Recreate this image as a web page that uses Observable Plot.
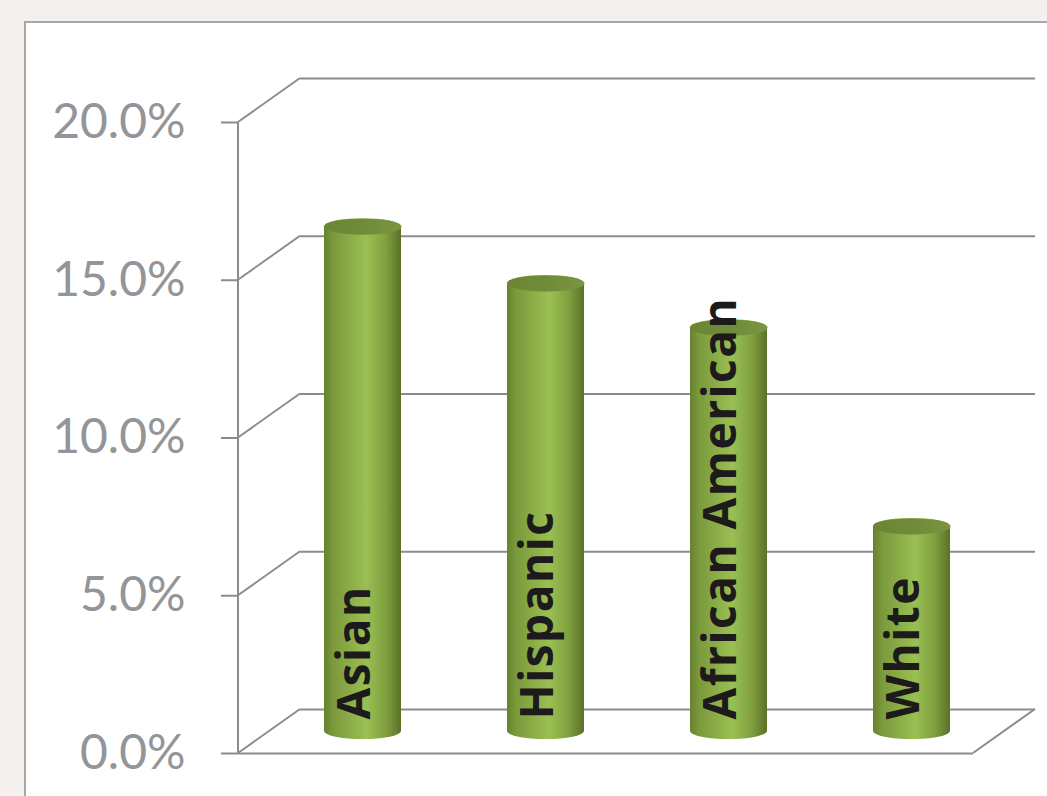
<!DOCTYPE html>
<html>
<head>
<meta charset="utf-8">
<script src="https://cdn.jsdelivr.net/npm/d3@7"></script>
<script src="https://cdn.jsdelivr.net/npm/@observablehq/plot@0.6"></script>
<style>
  html, body { margin: 0; padding: 0; }
  body { width: 1047px; height: 796px; overflow: hidden; background: #f3f0ed; position: relative; }
  #panel { position: absolute; left: 24px; top: 21px; width: 1100px; height: 900px; background: #ffffff; border: 2px solid #a7a7a7; box-sizing: border-box; }
  #chart { position: absolute; left: 0; top: 0; }
  #chart svg { background: transparent; }
  g[aria-label="text"] text { letter-spacing: 1.5px; }
</style>
</head>
<body>
<div id="panel"></div>
<div id="chart"></div>
<script>
const categories = ["Asian", "Hispanic", "African American", "White"];
const values = [16.0, 14.2, 12.8, 6.5];
const yTicks = [0, 5, 10, 15, 20];

const data = categories.map((c, i) => ({category: c, value: values[i]}));

const DX = 62, DY = -44;       // depth of the 3D box
const HX = DX / 2, HY = DY / 2; // bars sit at half depth
const RX = 38.5, RY = 8;       // cylinder cap ellipse

const ellipse = {
  draw(ctx) {
    const k = 0.5523;
    ctx.moveTo(RX, 0);
    ctx.bezierCurveTo(RX, RY * k, RX * k, RY, 0, RY);
    ctx.bezierCurveTo(-RX * k, RY, -RX, RY * k, -RX, 0);
    ctx.bezierCurveTo(-RX, -RY * k, -RX * k, -RY, 0, -RY);
    ctx.bezierCurveTo(RX * k, -RY, RX, -RY * k, RX, 0);
    ctx.closePath();
  }
};

function depthLines(index, scales, values, dims) {
  const y = scales.y;
  const L = dims.marginLeft, R = dims.width - dims.marginRight;
  const g = d3.create("svg:g")
    .attr("fill", "none").attr("stroke", "#8c8c8c").attr("stroke-width", 2);
  for (const t of yTicks) {
    g.append("path").attr("d", `M${L},${y(t)}l${DX},${DY}`);
  }
  g.append("path").attr("d", `M${L},${y(0)}V${y(d3.max(yTicks))}`);
  g.append("path").attr("d", `M${R},${y(0)}l${DX},${DY}`);
  return g.node();
}

const plot = Plot.plot({
  width: 1047,
  height: 796,
  marginLeft: 238,
  marginRight: 74,
  marginTop: 122,
  marginBottom: 43,
  style: {fontFamily: "Lato, 'Open Sans', sans-serif", background: "transparent", color: "#939598"},
  x: {type: "band", domain: categories, paddingInner: 0.581, paddingOuter: 0.29, axis: null},
  y: {domain: [0, 20], axis: null},
  marks: [
    Plot.ruleY(yTicks, {dx: DX, dy: DY, stroke: "#8c8c8c", strokeWidth: 2}),
    Plot.ruleY([0], {stroke: "#8c8c8c", strokeWidth: 2}),
    depthLines,
    Plot.axisY({ticks: yTicks, tickSize: 17, tickPadding: 36, tickFormat: d => d.toFixed(1) + "%",
      fontSize: 48, stroke: "#8c8c8c", strokeWidth: 2, fill: "#939598", label: null}),
    Plot.barY(data, {x: "category", y: "value", fill: "url(#cyl)", rx: RX, ry: RY,
      insetTop: -RY, insetBottom: -RY, dx: HX, dy: HY}),
    Plot.dot(data, {x: "category", y: "value", symbol: ellipse, r: 10, fill: "url(#cap)", stroke: "none", dx: HX, dy: HY}),
    Plot.text(data, {x: "category", y: d => 0, text: "category", rotate: -90, textAnchor: "start",
      dx: 23, dy: -34, fontSize: 46, fontWeight: "bold", fill: "#1c1a1b", fontFamily: "'Open Sans', Lato, sans-serif"})
  ]
});

const svg = d3.select(plot);
const defs = svg.insert("defs", ":first-child");
const g1 = defs.append("linearGradient").attr("id", "cyl").attr("x1", 0).attr("x2", 1).attr("y1", 0).attr("y2", 0);
[[0, "#67822f"], [0.12, "#7b9a3c"], [0.55, "#9abf52"], [0.8, "#80a03f"], [1, "#5b7229"]]
  .forEach(([o, c]) => g1.append("stop").attr("offset", o).attr("stop-color", c));
const g2 = defs.append("linearGradient").attr("id", "cap").attr("x1", 0).attr("x2", 1).attr("y1", 0).attr("y2", 0);
[[0, "#6a8535"], [0.6, "#718d3a"], [1, "#7a9641"]]
  .forEach(([o, c]) => g2.append("stop").attr("offset", o).attr("stop-color", c));

document.getElementById("chart").appendChild(plot);
</script>
</body>
</html>
